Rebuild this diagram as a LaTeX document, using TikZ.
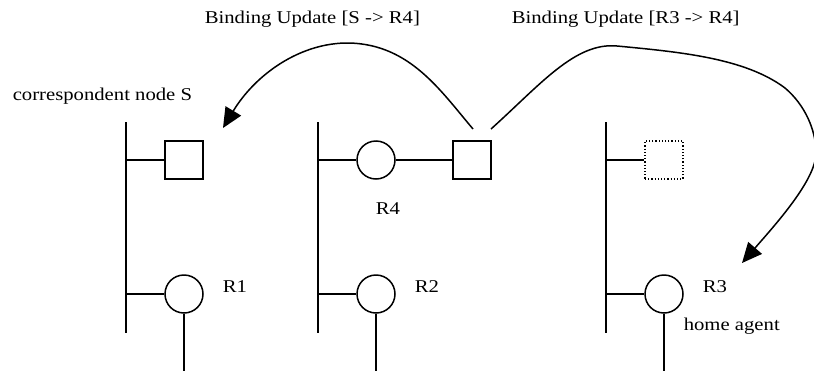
\documentclass[tikz,border=0pt]{standalone}
\usepackage{fontspec}
\setmainfont{Liberation Serif}[FakeStretch=1.15]
\usetikzlibrary{arrows.meta}
\begin{document}
\begin{tikzpicture}[x=1pt,y=-1pt,line width=1.5pt]
      \tikzstyle{rnode} = [draw=black, circle, minimum size=38pt, inner sep=0pt]
      \tikzstyle{hnode} = [draw=black, rectangle, minimum size=38pt, inner sep=0pt]
      \tikzstyle{tnode} = [font=\fontsize{18}{20}\selectfont, inner sep=0pt, anchor=base west]
      \tikzstyle{bu} = [-{Triangle[length=20pt,width=18pt]}]
      \useasboundingbox (0,0) rectangle (814,370);

      % links
      \coordinate (l1t) at (126,122);
      \coordinate (l1b) at (126,333);
      \coordinate (l1a) at (126,160);
      \coordinate (l1c) at (126,294);
      \coordinate (l2t) at (318,122);
      \coordinate (l2b) at (318,333);
      \coordinate (l2a) at (318,160);
      \coordinate (l2c) at (318,294);
      \coordinate (l3t) at (606,122);
      \coordinate (l3b) at (606,333);
      \coordinate (l3a) at (606,160);
      \coordinate (l3c) at (606,294);

      % hosts and routers
      \node[hnode] (s) at (184,160) {};
      \node[rnode] (r4) at (376,160) {};
      \node[hnode] (mn) at (472,160) {};
      \node[hnode, dotted, line width=1.2pt] (old) at (664,160) {};
      \node[rnode] (r1) at (184,294) {};
      \node[rnode] (r2) at (376,294) {};
      \node[rnode] (r3) at (664,294) {};
      \coordinate (u1) at (184,372);
      \coordinate (u2) at (376,372);
      \coordinate (u3) at (664,372);

      % labels
      \node[tnode] (bu1) at (204,23) {Binding Update [S -> R4]};
      \node[tnode] (bu2) at (511,23) {Binding Update [R3 -> R4]};
      \node[tnode] (cn) at (12,100) {correspondent node S};
      \node[tnode] (t4) at (375,214) {R4};
      \node[tnode] (t1) at (222,292) {R1};
      \node[tnode] (t2) at (414,292) {R2};
      \node[tnode] (t3) at (702,292) {R3};
      \node[tnode] (ha) at (683,330) {home agent};

      \draw[-] (l1t) to (l1b);
      \draw[-] (l2t) to (l2b);
      \draw[-] (l3t) to (l3b);

      \draw[-] (l1a) to (s);
      \draw[-] (l1c) to (r1);
      \draw[-] (l2a) to (r4);
      \draw[-] (r4) to (mn);
      \draw[-] (l2c) to (r2);
      \draw[-] (l3a) to (old);
      \draw[-] (l3c) to (r3);
      \draw[-] (r1) to (u1);
      \draw[-] (r2) to (u2);
      \draw[-] (r3) to (u3);

      % binding updates
      \coordinate (a1) at (473,129);
      \coordinate (a1e) at (223,128);
      \coordinate (a2) at (491,129);
      \coordinate (a2e) at (742,263);
      \draw[bu] (a1) .. controls (440,90) and (410,45) .. (350,43)
        .. controls (300,42) and (255,75) .. (a1e);
      \draw[bu] (a2) .. controls (540,85) and (575,42) .. (617,46)
        .. controls (680,52) and (745,58) .. (785,88)
        .. controls (805,105) and (816,130) .. (816,153)
        .. controls (816,180) and (775,225) .. (a2e);
    \end{tikzpicture}
\end{document}
